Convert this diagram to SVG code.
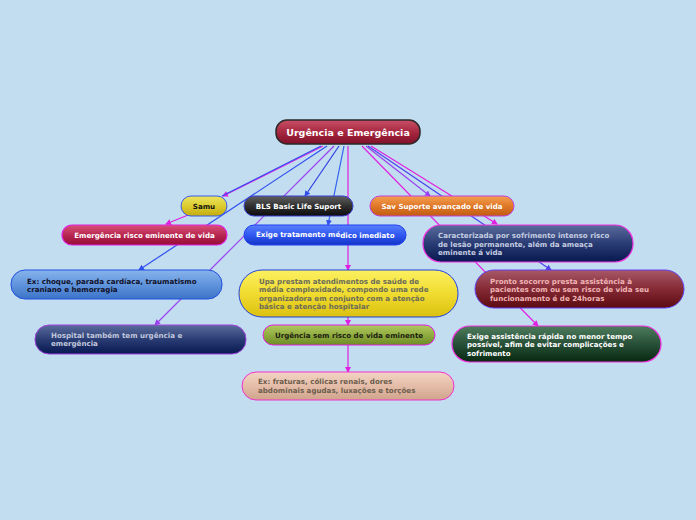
<svg xmlns="http://www.w3.org/2000/svg" width="696" height="520" viewBox="0 0 696 520">
<defs>
<style>
.t{font-family:"DejaVu Sans",Verdana,sans-serif;font-weight:bold;font-size:7.1px}
.c{text-anchor:middle}
.ln{fill:none;stroke-width:1.2}
</style>
<linearGradient id="gRoot" x1="0" y1="0" x2="0" y2="1"><stop offset="0" stop-color="#c85068"/><stop offset="0.5" stop-color="#a82840"/><stop offset="1" stop-color="#80102a"/></linearGradient>
<linearGradient id="gEmer" x1="0" y1="0" x2="0" y2="1"><stop offset="0" stop-color="#d85078"/><stop offset="0.5" stop-color="#b82850"/><stop offset="1" stop-color="#980c38"/></linearGradient>
<linearGradient id="gSamu" x1="0" y1="0" x2="0" y2="1"><stop offset="0" stop-color="#ece460"/><stop offset="0.5" stop-color="#dccc30"/><stop offset="1" stop-color="#c4ac10"/></linearGradient>
<linearGradient id="gBls" x1="0" y1="0" x2="0" y2="1"><stop offset="0" stop-color="#606060"/><stop offset="0.5" stop-color="#303030"/><stop offset="1" stop-color="#0c0c0c"/></linearGradient>
<linearGradient id="gSav" x1="0" y1="0" x2="0" y2="1"><stop offset="0" stop-color="#f4a050"/><stop offset="0.5" stop-color="#e07828"/><stop offset="1" stop-color="#c05c10"/></linearGradient>
<linearGradient id="gExt" x1="0" y1="0" x2="0" y2="1"><stop offset="0" stop-color="#5a80fc"/><stop offset="0.5" stop-color="#3058f0"/><stop offset="1" stop-color="#1434c8"/></linearGradient>
<linearGradient id="gChq" x1="0" y1="0" x2="0" y2="1"><stop offset="0" stop-color="#88b4ec"/><stop offset="0.5" stop-color="#6094dc"/><stop offset="1" stop-color="#3c74c8"/></linearGradient>
<linearGradient id="gNavy" x1="0" y1="0" x2="0" y2="1"><stop offset="0" stop-color="#5a6c9c"/><stop offset="0.5" stop-color="#2a3c74"/><stop offset="1" stop-color="#081850"/></linearGradient>
<linearGradient id="gUpa" x1="0" y1="0" x2="0" y2="1"><stop offset="0" stop-color="#fcf060"/><stop offset="0.5" stop-color="#f0dc30"/><stop offset="1" stop-color="#dcc010"/></linearGradient>
<linearGradient id="gOlive" x1="0" y1="0" x2="0" y2="1"><stop offset="0" stop-color="#b0c860"/><stop offset="0.5" stop-color="#90ac40"/><stop offset="1" stop-color="#6c8c24"/></linearGradient>
<linearGradient id="gPeach" x1="0" y1="0" x2="0" y2="1"><stop offset="0" stop-color="#f4d4c4"/><stop offset="0.5" stop-color="#e4bca8"/><stop offset="1" stop-color="#d0a48c"/></linearGradient>
<linearGradient id="gPronto" x1="0" y1="0" x2="0" y2="1"><stop offset="0" stop-color="#a85868"/><stop offset="0.5" stop-color="#842a36"/><stop offset="1" stop-color="#5c0a10"/></linearGradient>
<linearGradient id="gGreen" x1="0" y1="0" x2="0" y2="1"><stop offset="0" stop-color="#4e7c5c"/><stop offset="0.5" stop-color="#285038"/><stop offset="1" stop-color="#082810"/></linearGradient>
<marker id="aM" markerWidth="6" markerHeight="6" refX="5" refY="3" orient="auto" markerUnits="userSpaceOnUse"><path d="M0,0 L6,3 L0,6 Z" fill="#e020e0"/></marker>
<marker id="aB" markerWidth="6" markerHeight="6" refX="5" refY="3" orient="auto" markerUnits="userSpaceOnUse"><path d="M0,0 L6,3 L0,6 Z" fill="#3050f0"/></marker>
<marker id="aP" markerWidth="6" markerHeight="6" refX="5" refY="3" orient="auto" markerUnits="userSpaceOnUse"><path d="M0,0 L6,3 L0,6 Z" fill="#9a40f0"/></marker>
<marker id="aV" markerWidth="6" markerHeight="6" refX="5" refY="3" orient="auto" markerUnits="userSpaceOnUse"><path d="M0,0 L6,3 L0,6 Z" fill="#5040f0"/></marker>
</defs>
<rect width="696" height="520" fill="#c2ddf0"/>
<g id="connectors">
<line class="ln" x1="323" y1="146" x2="223" y2="196" stroke="#e020e0" marker-end="url(#aM)"/>
<line class="ln" x1="321" y1="146" x2="222" y2="196" stroke="#3050f0"/>
<line class="ln" x1="327" y1="146" x2="139" y2="270" stroke="#3050f0" marker-end="url(#aB)"/>
<line class="ln" x1="334" y1="146" x2="155" y2="325" stroke="#9a40f0" marker-end="url(#aP)"/>
<line class="ln" x1="339" y1="146" x2="305" y2="196" stroke="#3040e0" marker-end="url(#aB)"/>
<line class="ln" x1="344" y1="146" x2="328" y2="225" stroke="#3060f0" marker-end="url(#aB)"/>
<line class="ln" x1="348" y1="146" x2="348" y2="270" stroke="#e020e0" marker-end="url(#aM)"/>
<line class="ln" x1="362" y1="146" x2="538" y2="326" stroke="#e020e0" marker-end="url(#aM)"/>
<line class="ln" x1="366" y1="146" x2="430" y2="196" stroke="#9a40f0" marker-end="url(#aP)"/>
<line class="ln" x1="368" y1="146" x2="551" y2="270" stroke="#5040f0" marker-end="url(#aV)"/>
<line class="ln" x1="371" y1="146" x2="497" y2="224" stroke="#e020e0" marker-end="url(#aM)"/>
<line class="ln" x1="188" y1="215" x2="166" y2="224" stroke="#e020e0" marker-end="url(#aM)"/>
<line class="ln" x1="348" y1="317" x2="348" y2="325" stroke="#e020e0" marker-end="url(#aM)"/>
<line class="ln" x1="348" y1="345" x2="348" y2="372" stroke="#e020e0" marker-end="url(#aM)"/>
</g>
<g id="root">
<rect x="276" y="120" width="144" height="24" rx="11" fill="url(#gRoot)" stroke="#2a2a2a" stroke-width="1.5"/>
<text class="t c" x="348" y="136" style="font-size:9.5px" fill="#ffffff">Urgência e Emergência</text>
</g>
<g id="samu">
<rect x="181" y="196" width="46" height="20" rx="10" fill="url(#gSamu)" stroke="#3a5ce8" stroke-width="1"/>
<text class="t c" x="204" y="209" fill="#111111">Samu</text>
</g>
<g id="bls">
<rect x="244" y="196" width="109" height="20" rx="10" fill="url(#gBls)" stroke="#3a40d0" stroke-width="1"/>
<text class="t c" x="298.5" y="209" fill="#ffffff">BLS Basic Life Suport</text>
</g>
<g id="sav">
<rect x="370" y="196" width="144" height="20" rx="10" fill="url(#gSav)" stroke="#c040e0" stroke-width="1"/>
<text class="t c" x="442" y="209" fill="#ffffff">Sav Suporte avançado de vida</text>
</g>
<g id="emergencia">
<rect x="62" y="225" width="165" height="20" rx="10" fill="url(#gEmer)" stroke="#e020e0" stroke-width="1.2"/>
<text class="t c" x="144.5" y="237.5" fill="#ffffff">Emergência risco eminente de vida</text>
</g>
<g id="exige-tratamento">
<rect x="244" y="225" width="162" height="20" rx="10" fill="url(#gExt)" stroke="#2040f0" stroke-width="1"/>
<text class="t" x="256" y="236.5" fill="#ffffff">Exige tratamento mé<tspan dy="1.5">dico imediato</tspan></text>
</g>
<g id="caracterizada">
<rect x="423" y="225" width="210" height="37" rx="18" fill="url(#gNavy)" stroke="#f030e0" stroke-width="1.2"/>
<text class="t" fill="#c4cce0"><tspan x="438" y="238">Caracterizada por sofrimento intenso risco</tspan><tspan x="438" y="246.5">de lesão permanente, além da ameaça</tspan><tspan x="438" y="255">eminente á vida</tspan></text>
</g>
<g id="ex-choque">
<rect x="11" y="270" width="211" height="29" rx="14" fill="url(#gChq)" stroke="#2050e0" stroke-width="1"/>
<text class="t" fill="#101028"><tspan x="27" y="283.5">Ex: choque, parada cardíaca, traumatismo</tspan><tspan x="27" y="291.5">craniano e hemorragia</tspan></text>
</g>
<g id="upa">
<rect x="239" y="270" width="219" height="47" rx="23" fill="url(#gUpa)" stroke="#2040e0" stroke-width="1"/>
<text class="t" fill="#6c6c58"><tspan x="259" y="283.5">Upa  prestam atendimentos de saúde de</tspan><tspan x="259" y="292">média complexidade, compondo uma rede</tspan><tspan x="259" y="300.5">organizadora em conjunto com a atenção</tspan><tspan x="259" y="309">básica e atenção hospitalar</tspan></text>
</g>
<g id="pronto-socorro">
<rect x="475" y="270" width="209" height="38" rx="19" fill="url(#gPronto)" stroke="#6040f0" stroke-width="1"/>
<text class="t" fill="#f0b4b4"><tspan x="490" y="283.5">Pronto socorro presta assistência à</tspan><tspan x="490" y="292">pacientes com ou sem risco de vida seu</tspan><tspan x="490" y="300.5">funcionamento é de 24horas</tspan></text>
</g>
<g id="hospital">
<rect x="35" y="325" width="211" height="29" rx="14" fill="url(#gNavy)" stroke="#a040e0" stroke-width="1"/>
<text class="t" fill="#c0c8dc"><tspan x="51" y="337.5">Hospital também tem urgência e</tspan><tspan x="51" y="346">emergência</tspan></text>
</g>
<g id="urgencia-sem-risco">
<rect x="263" y="325" width="172" height="20" rx="10" fill="url(#gOlive)" stroke="#e020e0" stroke-width="1"/>
<text class="t c" x="349" y="337.5" fill="#1c2010">Urgência sem risco de vida eminente</text>
</g>
<g id="exige-assistencia">
<rect x="452" y="326" width="209" height="36" rx="18" fill="url(#gGreen)" stroke="#f030e0" stroke-width="1.2"/>
<text class="t" fill="#ffffff"><tspan x="467" y="338.5">Exige assistência rápida no menor tempo</tspan><tspan x="467" y="347">possível, afim de evitar complicações e</tspan><tspan x="467" y="355.5">sofrimento</tspan></text>
</g>
<g id="ex-fraturas">
<rect x="242" y="372" width="212" height="28" rx="14" fill="url(#gPeach)" stroke="#f030d0" stroke-width="1"/>
<text class="t" fill="#6c5c4c"><tspan x="258" y="384">Ex: fraturas, cólicas renais, dores</tspan><tspan x="258" y="392.5">abdominais agudas, luxações e torções</tspan></text>
</g>
</svg>
